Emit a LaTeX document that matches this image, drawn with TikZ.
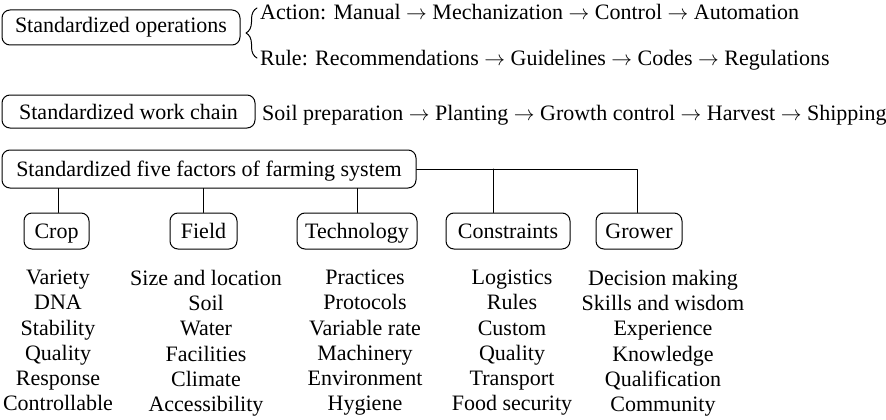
\documentclass[tikz,border=0pt]{standalone}
\usepackage{fontspec}
\setmainfont{Liberation Serif}
\usetikzlibrary{decorations.pathreplacing,calc}

\begin{document}
\begin{tikzpicture}[x=1pt, y=-1pt, line cap=round, line join=round,
  font=\fontsize{22}{25.2}\selectfont,
  stdbox/.style={draw, line width=1pt, rounded corners=8pt, inner sep=0pt,
    text height=17pt, text depth=2pt},
  chainline/.style={anchor=base west, inner sep=0pt},
  factlist/.style={align=center, anchor=north, inner sep=0pt},
  link/.style={line width=1pt}]
  \useasboundingbox (0,0) rectangle (886,420);

  % ---------- standardized operations ----------
  \node[stdbox, text height=13pt, text depth=3.4pt, minimum width=238pt, minimum height=35pt] (ops) at (121,27.5) {Standardized operations};
  \node[chainline] (action) at (260,19.5) {Action: Manual $\rightarrow$ Mechanization $\rightarrow$ Control $\rightarrow$ Automation};
  \node[chainline] (rule) at (260,66) {Rule: Recommendations $\rightarrow$ Guidelines $\rightarrow$ Codes $\rightarrow$ Regulations};
  \draw[link, decorate, decoration={brace, amplitude=11pt}] (257,58) -- (257,8);

  % ---------- standardized work chain ----------
  \node[stdbox, minimum width=253pt, minimum height=33pt] (chain) at (128.5,111.5) {Standardized work chain};
  \node[chainline] (steps) at (262,120) {Soil preparation $\rightarrow$ Planting $\rightarrow$ Growth control $\rightarrow$ Harvest $\rightarrow$ Shipping};

  % ---------- five factors ----------
  \node[stdbox, minimum width=414pt, minimum height=38pt] (fivef) at (209,169) {Standardized five factors of farming system};
  \node[stdbox, minimum width=65pt, minimum height=36pt] (crop) at (56.5,231) {Crop};
  \node[stdbox, minimum width=67pt, minimum height=36pt] (field) at (203.5,231) {Field};
  \node[stdbox, minimum width=120pt, minimum height=36pt] (tech) at (357,231) {Technology};
  \node[stdbox, minimum width=124pt, minimum height=36pt] (constr) at (508,231) {Constraints};
  \node[stdbox, minimum width=86pt, minimum height=36pt] (grower) at (639,231) {Grower};

  \draw[link] ([xshift=2pt]crop.north) -- ([xshift=2pt]crop.north |- fivef.south);
  \draw[link] (field.north) -- (field.north |- fivef.south);
  \draw[link] (tech.north) -- (tech.north |- fivef.south);
  \draw[link] (fivef.east) -| ([xshift=-2pt]grower.north);
  \draw[link] ([xshift=-15pt]constr.north) -- ([xshift=-15pt]constr.north |- fivef.east);

  \node[factlist] (croplist) at (58,270) {Variety\\DNA\\Stability\\Quality\\Response\\Controllable};
  \node[factlist] (fieldlist) at (206,270) {Size and location\\Soil\\Water\\Facilities\\Climate\\Accessibility};
  \node[factlist] (techlist) at (365,270) {Practices\\Protocols\\Variable rate\\Machinery\\Environment\\Hygiene};
  \node[factlist] (constrlist) at (512,270) {Logistics\\Rules\\Custom\\Quality\\Transport\\Food security};
  \node[factlist] (growerlist) at (663,270) {Decision making\\Skills and wisdom\\Experience\\Knowledge\\Qualification\\Community};
\end{tikzpicture}
\end{document}
